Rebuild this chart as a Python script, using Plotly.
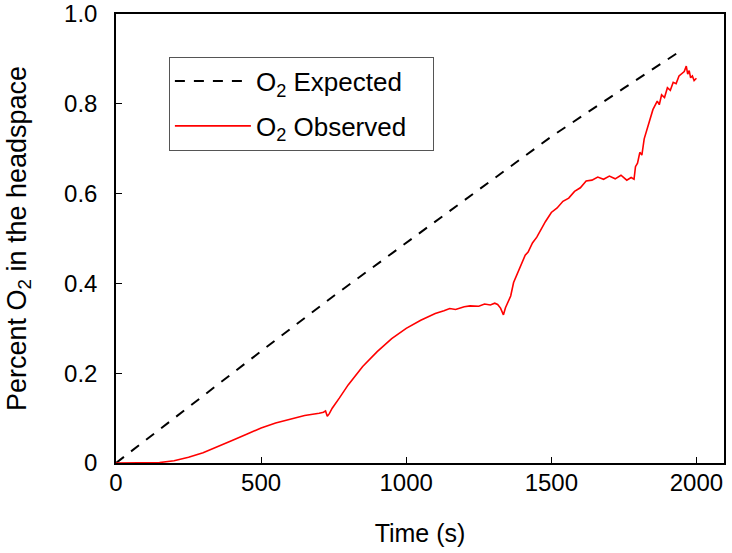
import plotly.graph_objects as go

# Expected O2 (dashed line)
expected_t = [0, 250, 500, 750, 1000, 1250, 1500, 1750, 1950]
expected_v = [0.0, 0.125, 0.249, 0.372, 0.491, 0.610, 0.727, 0.835, 0.920]

# Observed O2 (red line)
observed_t = [0, 50, 100, 150, 200, 250, 300, 350, 400, 450, 500, 550, 600, 650, 700,
              715, 722, 728, 735, 745, 770, 800, 850, 900, 950, 1000, 1050, 1100,
              1130, 1150, 1170, 1200, 1220, 1250, 1270, 1290, 1305, 1315, 1325, 1335,
              1342, 1350, 1360, 1370, 1380, 1395, 1410, 1420, 1435, 1450, 1465, 1480,
              1500, 1520, 1540, 1560, 1580, 1600, 1620, 1640, 1660, 1680, 1700, 1720,
              1740, 1760, 1775, 1785, 1790, 1797, 1805, 1812, 1820, 1835, 1850, 1865,
              1872, 1880, 1890, 1900, 1910, 1920, 1930, 1940, 1950, 1958, 1965, 1970,
              1975, 1980, 1986, 1992, 2000]
observed_v = [0.0, 0.0, 0.0, 0.001, 0.005, 0.013, 0.023, 0.036, 0.050, 0.064, 0.078,
              0.089, 0.098, 0.106, 0.111, 0.113, 0.116, 0.104, 0.110, 0.122, 0.145,
              0.174, 0.215, 0.248, 0.277, 0.300, 0.318, 0.333, 0.339, 0.344, 0.342,
              0.348, 0.350, 0.349, 0.354, 0.352, 0.356, 0.353, 0.345, 0.330, 0.346,
              0.356, 0.372, 0.402, 0.418, 0.438, 0.463, 0.470, 0.490, 0.503, 0.522,
              0.538, 0.558, 0.568, 0.583, 0.590, 0.605, 0.613, 0.628, 0.630, 0.637,
              0.632, 0.639, 0.633, 0.641, 0.630, 0.636, 0.632, 0.660, 0.668, 0.692,
              0.686, 0.722, 0.752, 0.787, 0.806, 0.798, 0.820, 0.814, 0.836, 0.830,
              0.848, 0.845, 0.862, 0.868, 0.872, 0.884, 0.866, 0.874, 0.858, 0.862,
              0.852, 0.857, 0.855]

x_ticks = [0, 500, 1000, 1500, 2000]
y_ticks = [0, 0.2, 0.4, 0.6, 0.8, 1.0]
y_tick_labels = ["0", "0.2", "0.4", "0.6", "0.8", "1.0"]

FONT = "Liberation Sans, Arial, sans-serif"

fig = go.Figure()
fig.add_trace(go.Scatter(
    x=expected_t, y=expected_v, mode="lines",
    name="O<sub>2</sub> Expected", legendgroup="a",
    line=dict(color="black", width=2, dash="10px,9px"),
))
fig.add_trace(go.Scatter(
    x=observed_t, y=observed_v, mode="lines",
    name="O<sub>2</sub> Observed\u00a0\u00a0\u00a0", legendgroup="b",
    line=dict(color="#ff0000", width=1.6),
))

axis_common = dict(
    showline=True, linecolor="black", linewidth=1.5, mirror=True,
    ticks="inside", ticklen=6, tickwidth=1.2, tickcolor="black",
    showgrid=False, zeroline=False, automargin=False,
    ticklabeloverflow="allow",
    tickfont=dict(family=FONT, size=24, color="black"),
)

fig.update_layout(
    width=732, height=553,
    margin=dict(l=116, r=8, t=14, b=90),
    paper_bgcolor="white", plot_bgcolor="white",
    font=dict(family=FONT, size=24, color="black"),
    xaxis=dict(range=[0, 2095], tickvals=x_ticks, ticklabelstandoff=-3,
               title=dict(text="Time (s)", font=dict(family=FONT, size=25), standoff=30),
               **axis_common),
    yaxis=dict(range=[0, 1.0001], tickvals=y_ticks, ticktext=y_tick_labels, ticklabelstandoff=12,
               title=dict(text="Percent O<sub>2</sub> in the headspace",
                          font=dict(family=FONT, size=27), standoff=30),
               **axis_common),
    legend=dict(x=0.087, y=0.905, xanchor="left", yanchor="top",
                bordercolor="#555555", borderwidth=1, bgcolor="white",
                font=dict(family=FONT, size=26, color="black"),
                itemwidth=76, tracegroupgap=8, traceorder="grouped"),
    showlegend=True,
)

fig.write_html("out.html",
               config={"displayModeBar": False},
               post_script="document.body.style.margin='0';document.body.style.overflow='hidden';")
